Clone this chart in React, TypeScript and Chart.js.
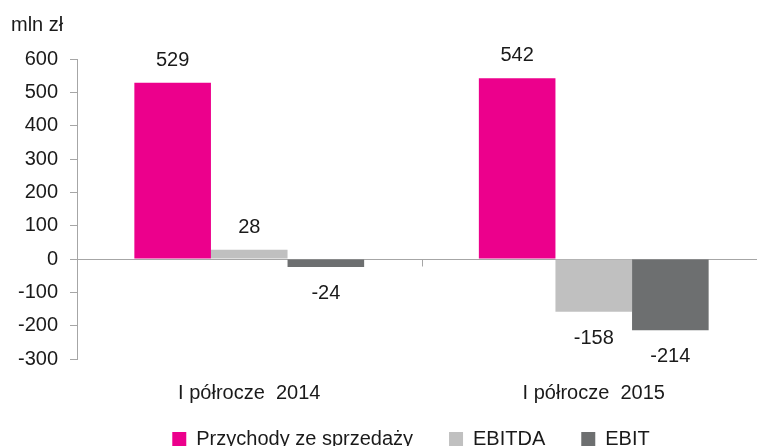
import React, { useEffect, useRef } from "react";
import { Chart, registerables } from "chart.js";

Chart.register(...registerables);

const categories = ["I półrocze  2014", "I półrocze  2015"];
const seriesNames = ["Przychody ze sprzedaży", "EBITDA", "EBIT"];
const revenue = [529, 542];
const ebitda = [28, -158];
const ebit = [-24, -214];
const seriesColors = ["#EC008C", "#C0C0C0", "#6D6F70"];
const yMin = -300;
const yMax = 600;
const yStep = 100;
const unitLabel = "mln zł";

const FONT = "'Liberation Sans', Arial, sans-serif";
const FS = 20;
const TEXT = "#1A1A1A";
const AXIS = "#A6A6A6";
const LEGEND_PAD = 36;

export default function App() {
  const ref = useRef<HTMLCanvasElement | null>(null);

  useEffect(() => {
    if (!ref.current) return;

    const extras = {
      id: "extras",
      afterDatasetsDraw(chart: any) {
        const ctx = chart.ctx;
        ctx.save();
        ctx.font = `${FS}px ${FONT}`;
        ctx.fillStyle = TEXT;
        ctx.textAlign = "center";
        ctx.textBaseline = "alphabetic";
        chart.data.datasets.forEach((ds: any, di: number) => {
          const meta = chart.getDatasetMeta(di);
          meta.data.forEach((el: any, i: number) => {
            const v = ds.data[i];
            const y = v >= 0 ? el.y - 17 : el.y + 32;
            ctx.fillText(String(v), el.x, y);
          });
        });
        // category boundary ticks on the zero line
        const xs = chart.scales.x;
        const ys = chart.scales.y;
        const y0 = Math.round(ys.getPixelForValue(0)) + 0.5;
        ctx.strokeStyle = AXIS;
        ctx.lineWidth = 1;
        for (let i = 0; i <= categories.length; i++) {
          const x = Math.round(xs.getPixelForValue(i - 0.5)) + 0.5;
          ctx.beginPath();
          ctx.moveTo(x, y0);
          ctx.lineTo(x, y0 + 7);
          ctx.stroke();
        }
        // unit label
        ctx.textAlign = "left";
        ctx.fillText(unitLabel, 11, 31);
        ctx.restore();
      },
    };

    const values = [revenue, ebitda, ebit];
    const chart = new Chart(ref.current, {
      type: "bar",
      data: {
        labels: categories,
        datasets: seriesNames.map((name, i) => ({
          label: name,
          data: values[i],
          backgroundColor: seriesColors[i],
          borderWidth: 0,
          categoryPercentage: 0.667,
          barPercentage: 1,
        })),
      },
      options: {
        responsive: false,
        animation: false,
        layout: { padding: { left: 0, top: 59, right: 0, bottom: 0 } },
        plugins: {
          tooltip: { enabled: false },
          legend: {
            position: "bottom",
            labels: {
              boxWidth: 14,
              boxHeight: 14,
              padding: LEGEND_PAD,
              color: TEXT,
              font: { family: FONT, size: FS },
            },
          },
        },
        scales: {
          x: {
            grid: { display: false, drawTicks: false, tickLength: 0 },
            border: { display: false },
            ticks: {
              color: TEXT,
              font: { family: FONT, size: FS },
              mirror: true,
              padding: -46,
              maxRotation: 0,
            },
            afterFit(scale: any) {
              scale.height = 70 - LEGEND_PAD;
            },
          },
          y: {
            min: yMin,
            max: yMax,
            ticks: {
              stepSize: yStep,
              color: TEXT,
              font: { family: FONT, size: FS },
              padding: 12,
            },
            grid: {
              color: (c: any) => (c.tick && c.tick.value === 0 ? AXIS : "transparent"),
              tickColor: AXIS,
              tickLength: 7,
              drawTicks: true,
            },
            border: { display: true, color: AXIS, width: 1 },
            afterFit(scale: any) {
              scale.width = 77;
            },
          },
          yRight: {
            type: "linear",
            position: "right",
            display: true,
            grid: { display: false, drawTicks: false },
            border: { display: false },
            ticks: { display: false },
            afterFit(scale: any) {
              scale.width = 56;
            },
          },
        },
      },
      plugins: [extras],
    });

    return () => chart.destroy();
  }, []);

  return (
    <div
      style={{
        position: "absolute",
        left: 0,
        top: 0,
        width: 757,
        height: 446,
        overflow: "hidden",
        background: "#fff",
      }}
    >
      <canvas
        ref={ref}
        width={822}
        height={459}
        style={{ display: "block", width: 822, height: 459 }}
      />
    </div>
  );
}
